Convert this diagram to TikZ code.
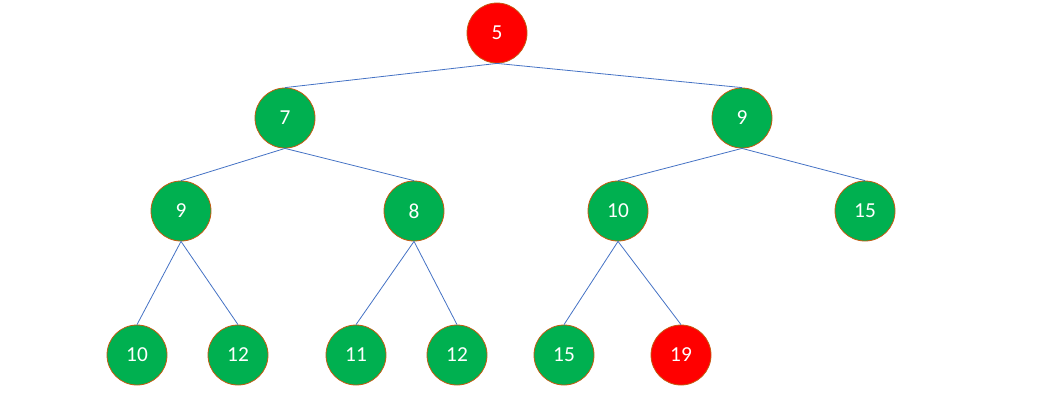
\documentclass[tikz,border=0pt]{standalone}
\usepackage{fontspec}
\setmainfont{Carlito}
\definecolor{heapgreen}{RGB}{0,176,80}
\definecolor{heapred}{RGB}{255,0,0}
\definecolor{heaprim}{RGB}{197,90,17}
\definecolor{heapedge}{RGB}{68,114,196}
\begin{document}
\begin{tikzpicture}[x=0.75pt,y=-0.75pt,
    keynode/.style={circle,draw=heaprim,line width=0.6pt,minimum size=45pt,inner sep=0pt,
      text=white,font=\fontsize{16}{19}\selectfont},
    okkey/.style={keynode,fill=heapgreen},
    badkey/.style={keynode,fill=heapred},
    link/.style={heapedge,line width=0.6pt}]
  \useasboundingbox (0,0) rectangle (1044,412);
  \begin{scope}
    % root and first level
    \node[badkey] (r) at (497,33) {5};
    \node[okkey] (a) at (285,118) {7};
    \node[okkey] (b) at (742,118) {9};
    % second level
    \node[okkey] (aa) at (181,211) {9};
    \node[okkey] (ab) at (414,211) {8};
    \node[okkey] (ba) at (618,211) {10};
    \node[okkey] (bb) at (865,211) {15};
    % third level
    \node[okkey] (aaa) at (137,355) {10};
    \node[okkey] (aab) at (238,355) {12};
    \node[okkey] (aba) at (356,355) {11};
    \node[okkey] (abb) at (457,355) {12};
    \node[okkey] (baa) at (564,355) {15};
    \node[badkey] (bab) at (681,355) {19};

    \foreach \p/\c in {r/a,r/b,a/aa,a/ab,b/ba,b/bb,aa/aaa,aa/aab,ab/aba,ab/abb,ba/baa,ba/bab}
      \draw[link] (\p.south) -- (\c.north);
  \end{scope}
\end{tikzpicture}
\end{document}
